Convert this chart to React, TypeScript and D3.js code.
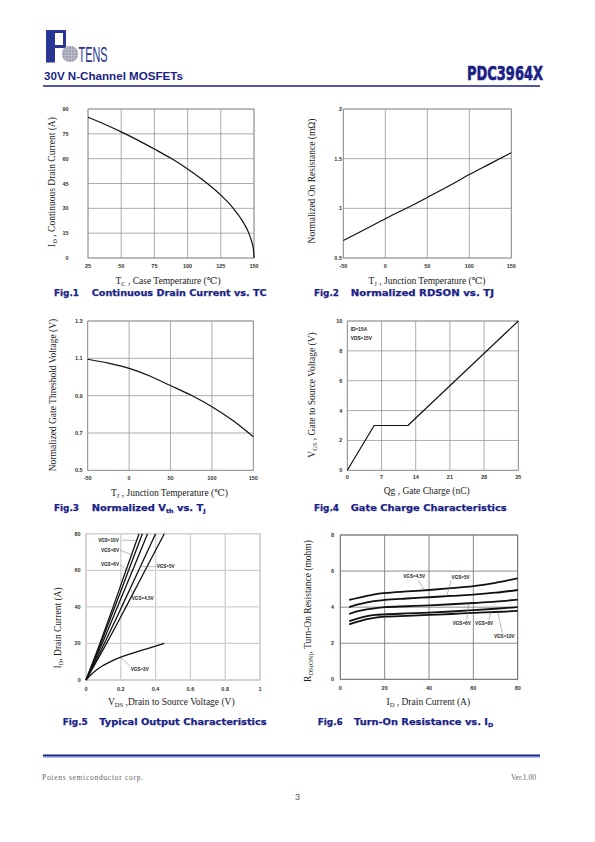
import React from 'react';
import * as d3 from 'd3';

// ---------- Fig.1 Continuous Drain Current vs. TC ----------
const fig1Temp = [25, 37.5, 50, 62.5, 75, 87.5, 100, 112.5, 125, 130, 135, 140, 143, 146, 148, 149, 149.7, 150];
const fig1Current = [85, 80.8, 76.2, 71.2, 65.8, 60.2, 53.8, 46.5, 38, 34, 29.4, 24, 20.1, 15.2, 10.7, 7.6, 4.2, 0];
const fig1XTicks = [25, 50, 75, 100, 125, 150];
const fig1YTicks = [0, 15, 30, 45, 60, 75, 90];

// ---------- Fig.2 Normalized RDSON vs. TJ ----------
const fig2Temp = [-50, -25, 0, 25, 50, 75, 100, 125, 150];
const fig2Rdson = [0.677, 0.785, 0.895, 1.0, 1.11, 1.222, 1.34, 1.45, 1.56];
const fig2XTicks = [-50, 0, 50, 100, 150];
const fig2YTicks = [0.5, 1, 1.5, 2];

// ---------- Fig.3 Normalized Vth vs. TJ ----------
const fig3Temp = [-50, -25, 0, 25, 50, 75, 100, 125, 150];
const fig3Vth = [1.095, 1.074, 1.046, 1.005, 0.954, 0.902, 0.841, 0.768, 0.68];
const fig3XTicks = [-50, 0, 50, 100, 150];
const fig3YTicks = [0.5, 0.7, 0.9, 1.1, 1.3];

// ---------- Fig.4 Gate Charge ----------
const fig4Qg = [0, 5.5, 12.4, 35];
const fig4Vgs = [0, 3, 3, 10];
const fig4XTicks = [0, 7, 14, 21, 28, 35];
const fig4YTicks = [0, 2, 4, 6, 8, 10];
const fig4Notes = ['ID=15A', 'VDS=15V'];

// ---------- Fig.5 Typical Output Characteristics ----------
const fig5Labels = ['VGS=10V', 'VGS=8V', 'VGS=6V', 'VGS=5V', 'VGS=4.5V', 'VGS=3V'];
const fig5Vds = [
  [0, 0.08, 0.156, 0.23, 0.305],
  [0, 0.085, 0.166, 0.245, 0.324],
  [0, 0.093, 0.181, 0.268, 0.354],
  [0, 0.105, 0.205, 0.303, 0.4],
  [0, 0.118, 0.23, 0.34, 0.45],
  [0, 0.03, 0.06, 0.1, 0.15, 0.2, 0.3, 0.4, 0.45],
];
const fig5Id = [
  [0, 20, 40, 60, 80],
  [0, 20, 40, 60, 80],
  [0, 20, 40, 60, 80],
  [0, 20, 40, 60, 80],
  [0, 20, 40, 60, 80],
  [0, 3, 5.5, 8, 10.5, 12.5, 15.7, 18.5, 20],
];
const fig5XTicks = [0, 0.2, 0.4, 0.6, 0.8, 1];
const fig5YTicks = [0, 20, 40, 60, 80];

// ---------- Fig.6 Turn-On Resistance vs. ID ----------
const fig6Labels = ['VGS=4.5V', 'VGS=5V', 'VGS=6V', 'VGS=8V', 'VGS=10V'];
const fig6Id = [4, 8, 12, 16, 20, 30, 40, 50, 60, 70, 80];
const fig6Rds = [
  [4.4, 4.52, 4.62, 4.72, 4.78, 4.87, 4.95, 5.05, 5.17, 5.35, 5.6],
  [4.0, 4.15, 4.27, 4.35, 4.4, 4.48, 4.55, 4.62, 4.7, 4.8, 4.95],
  [3.62, 3.78, 3.88, 3.95, 4.0, 4.05, 4.1, 4.16, 4.23, 4.31, 4.42],
  [3.22, 3.38, 3.5, 3.57, 3.6, 3.65, 3.7, 3.76, 3.83, 3.91, 4.0],
  [3.05, 3.2, 3.33, 3.42, 3.47, 3.52, 3.57, 3.62, 3.68, 3.73, 3.79],
];
const fig6XTicks = [0, 20, 40, 60, 80];
const fig6YTicks = [0, 2, 4, 6, 8];

// ---------- annotation placements (data coords) ----------
const fig5Anno = [
  { t: 0, at: [0.07, 76.5], from: [0.205, 76.5], to: [0.29, 76.3] },
  { t: 1, at: [0.086, 71], from: [0.195, 71], to: [0.275, 68] },
  { t: 2, at: [0.086, 63], from: [0.195, 63], to: [0.26, 59] },
  { t: 3, at: [0.406, 62], from: [0.4, 62], to: [0.31, 62] },
  { t: 4, at: [0.263, 44.3], from: [0.27, 47], to: [0.25, 51] },
  { t: 5, at: [0.257, 5.85], from: [0.255, 7.2], to: [0.2, 12.3] },
];
const fig6Anno = [
  { t: 0, at: [28.4, 5.69], from: [35, 5.5], to: [38, 4.95] },
  { t: 1, at: [50.2, 5.67], from: [50, 5.5], to: [48, 4.62] },
  { t: 2, at: [50.7, 3.1], from: [57, 3.3], to: [58, 4.22] },
  { t: 3, at: [60.8, 3.12], from: [67, 3.3], to: [68, 3.89] },
  { t: 4, at: [69.3, 2.36], from: [73, 2.6], to: [71, 3.74] },
];

const NAVY = '#1b1f86';
const SERIF = '"Liberation Serif", "DejaVu Serif", serif';
const SANS = '"Liberation Sans", Arial, sans-serif';
const HEAVY = '"DejaVu Sans", "Liberation Sans", sans-serif';

type Ser = { xs: number[]; ys: number[]; w: number; straight?: boolean };

function Chart(p: {
  box: [number, number, number, number];
  xDomain: [number, number];
  yDomain: [number, number];
  xTicks: number[];
  yTicks: number[];
  yLabelRight: number;
  xLabelY: number;
  grid: string;
  gridW: number;
  series: Ser[];
  extra?: (x: any, y: any) => React.ReactNode;
}) {
  const [l, t, r, b] = p.box;
  const x = d3.scaleLinear().domain(p.xDomain).range([l, r]);
  const y = d3.scaleLinear().domain(p.yDomain).range([b, t]);
  const mk = (straight?: boolean) =>
    d3
      .line<[number, number]>()
      .x((d) => x(d[0]))
      .y((d) => y(d[1]))
      .curve(straight ? d3.curveLinear : d3.curveMonotoneX);
  return (
    <g>
      {p.xTicks.map((v, i) => (
        <line key={'gx' + i} x1={x(v)} x2={x(v)} y1={t} y2={b} stroke={p.grid} strokeWidth={p.gridW} />
      ))}
      {p.yTicks.map((v, i) => (
        <line key={'gy' + i} x1={l} x2={r} y1={y(v)} y2={y(v)} stroke={p.grid} strokeWidth={p.gridW} />
      ))}
      <rect x={l} y={t} width={r - l} height={b - t} fill="none" stroke={p.grid} strokeWidth={p.gridW} />
      {p.xTicks.map((v, i) => (
        <text key={'tx' + i} x={x(v)} y={p.xLabelY} textAnchor="middle" dominantBaseline="central"
          fontFamily={SANS} fontWeight="bold" fontSize={5.5} fill="#333">{String(v)}</text>
      ))}
      {p.yTicks.map((v, i) => (
        <text key={'ty' + i} x={p.yLabelRight} y={y(v)} textAnchor="end" dominantBaseline="central"
          fontFamily={SANS} fontWeight="bold" fontSize={5.5} fill="#333">{String(v)}</text>
      ))}
      {p.series.map((s, i) => (
        <path key={'s' + i} d={mk(s.straight)(s.xs.map((v, j) => [v, s.ys[j]] as [number, number])) || ''}
          fill="none" stroke="#111" strokeWidth={s.w} strokeLinejoin="round" />
      ))}
      {p.extra ? p.extra(x, y) : null}
    </g>
  );
}

function XTitle(p: { x: number; y: number; parts: [string, string?][] }) {
  return (
    <text x={p.x} y={p.y} textAnchor="middle" dominantBaseline="central" fontFamily={SERIF} fontSize={9.5} fill="#222">
      {p.parts.map((pt, i) =>
        pt[1] === 's' ? (
          <tspan key={i} fontSize={6.5} dy={1.8}>{pt[0]}</tspan>
        ) : (
          <tspan key={i} dy={i > 0 && p.parts[i - 1][1] === 's' ? -1.8 : 0}>{pt[0]}</tspan>
        )
      )}
    </text>
  );
}

function YTitle(p: { x: number; y: number; parts: [string, string?][] }) {
  return (
    <g transform={`translate(${p.x},${p.y}) rotate(-90)`}>
      <XTitle x={0} y={0} parts={p.parts} />
    </g>
  );
}

function FigCaption(p: { n: number; x1: number; x2: number; x3: number; y: number; parts: [string, string?][] }) {
  return (
    <g fontFamily={HEAVY} fontWeight="bold" fill={NAVY} stroke={NAVY} strokeWidth={0.25}>
      <text x={p.x1} y={p.y} fontSize={8.5} textLength={25} lengthAdjust="spacingAndGlyphs">{'Fig.' + p.n}</text>
      <text x={p.x2} y={p.y} fontSize={8.5} textLength={p.x3 - p.x2} lengthAdjust="spacingAndGlyphs">
        {p.parts.map((pt, i) =>
          pt[1] === 's' ? (
            <tspan key={i} fontSize={5.5} dy={1.5}>{pt[0]}</tspan>
          ) : (
            <tspan key={i} dy={i > 0 && p.parts[i - 1][1] === 's' ? -1.5 : 0}>{pt[0]}</tspan>
          )
        )}
      </text>
    </g>
  );
}

function annoRender(anno: any[], labels: string[]) {
  return (x: any, y: any) => (
    <g>
      {anno.map((a, i) => (
        <g key={i}>
          <line x1={x(a.from[0])} y1={y(a.from[1])} x2={x(a.to[0])} y2={y(a.to[1])} stroke="#777" strokeWidth={0.5} />
          <text x={x(a.at[0])} y={y(a.at[1])} dominantBaseline="central" fontFamily={SANS} fontWeight="bold"
            fontSize={4.6} fill="#222">{labels[a.t]}</text>
        </g>
      ))}
    </g>
  );
}

function Logo() {
  const cx = 70, cy = 54, r = 8.3;
  const offs = [-6, -3, 0, 3, 6];
  return (
    <g>
      <path d="M46,30 H66 V48 H55 V62.5 H46 Z M55,33 V45 H63 V33 Z" fill="#283593" fillRule="evenodd" />
      <defs>
        <clipPath id="globe"><circle cx={cx} cy={cy} r={r} /></clipPath>
      </defs>
      <circle cx={cx} cy={cy} r={r} fill="#c9cbd3" />
      <g clipPath="url(#globe)" stroke="#7d8090" strokeWidth={0.6}>
        {offs.map((o, i) => (
          <line key={'a' + i} x1={cx + o} x2={cx + o} y1={cy - r} y2={cy + r} />
        ))}
        {offs.map((o, i) => (
          <line key={'b' + i} y1={cy + o} y2={cy + o} x1={cx - r} x2={cx + r} />
        ))}
      </g>
      <text x={78.5} y={62} fontFamily={SANS} fontSize={22} fill="#283593" textLength={29}
        lengthAdjust="spacingAndGlyphs">TENS</text>
    </g>
  );
}

export default function App() {
  const s1: Ser[] = [{ xs: fig1Temp, ys: fig1Current, w: 1.2 }];
  const s2: Ser[] = [{ xs: fig2Temp, ys: fig2Rdson, w: 1.2 }];
  const s3: Ser[] = [{ xs: fig3Temp, ys: fig3Vth, w: 1.2 }];
  const s5: Ser[] = fig5Vds.map((xs, i) => ({ xs, ys: fig5Id[i], w: 1.3 }));
  const s6: Ser[] = fig6Rds.map((ys) => ({ xs: fig6Id, ys, w: 1.8 }));
  return (
    <svg width={595} height={842} style={{ position: 'absolute', left: 0, top: 0, background: '#fff' }}>
      {/* Header */}
      <Logo />
      <text x={44} y={80} fontFamily={SANS} fontWeight="bold" fontSize={11} fill={NAVY} textLength={139}
        lengthAdjust="spacingAndGlyphs">30V N-Channel MOSFETs</text>
      <text x={467} y={79.5} fontFamily={HEAVY} fontWeight="bold" fontSize={20} fill={NAVY} stroke={NAVY}
        strokeWidth={0.7} textLength={76} lengthAdjust="spacingAndGlyphs">PDC3964X</text>
      <line x1={43} x2={540} y1={86} y2={86} stroke={NAVY} strokeWidth={1.3} />

      {/* Fig 1 */}
      <Chart box={[88, 109, 254, 258]} xDomain={[25, 150]} yDomain={[0, 90]} xTicks={fig1XTicks} yTicks={fig1YTicks}
        yLabelRight={68.5} xLabelY={265.7} grid="#8a8a8a" gridW={0.7} series={s1} />
      <YTitle x={52} y={182} parts={[['I'], ['D', 's'], [' , Continuous Drain Current (A)']]} />
      <XTitle x={168} y={281} parts={[['T'], ['C', 's'], [' , Case Temperature (℃)']]} />
      <FigCaption n={1} x1={54} x2={91.7} x3={266.7} y={296} parts={[['Continuous Drain Current vs. TC']]} />

      {/* Fig 2 */}
      <Chart box={[343.3, 109, 511.3, 258]} xDomain={[-50, 150]} yDomain={[0.5, 2]} xTicks={fig2XTicks}
        yTicks={fig2YTicks} yLabelRight={342} xLabelY={265.7} grid="#8a8a8a" gridW={0.7} series={s2} />
      <YTitle x={311.7} y={181} parts={[['Normalized On Resistance (mΩ)']]} />
      <XTitle x={427} y={281} parts={[['T'], ['J', 's'], [' , Junction Temperature (℃)']]} />
      <FigCaption n={2} x1={314} x2={350.7} x3={494} y={296} parts={[['Normalized RDSON vs. TJ']]} />

      {/* Fig 3 */}
      <Chart box={[87.7, 321, 253.3, 470.3]} xDomain={[-50, 150]} yDomain={[0.5, 1.3]} xTicks={fig3XTicks}
        yTicks={fig3YTicks} yLabelRight={82.7} xLabelY={477.7} grid="#8a8a8a" gridW={0.7} series={s3} />
      <YTitle x={52.7} y={395} parts={[['Normalized Gate Threshold Voltage (V)']]} />
      <XTitle x={169.5} y={492.7} parts={[['T'], ['J', 's'], [' , Junction Temperature (℃)']]} />
      <FigCaption n={3} x1={54} x2={91.7} x3={205.7} y={511} parts={[['Normalized V'], ['th', 's'], [' vs. T'], ['J', 's']]} />

      {/* Fig 4 */}
      <Chart box={[347.3, 321, 518.3, 470.3]} xDomain={[0, 35]} yDomain={[0, 10]} xTicks={fig4XTicks}
        yTicks={fig4YTicks} yLabelRight={342.3} xLabelY={477} grid="#8a8a8a" gridW={0.7}
        series={[{ xs: fig4Qg, ys: fig4Vgs, w: 1.2, straight: true }]}
        extra={(x, y) => (
          <g fontFamily={SANS} fontWeight="bold" fontSize={4.8} fill="#222">
            <text x={x(0.7)} y={y(9.4)} dominantBaseline="central">{fig4Notes[0]}</text>
            <text x={x(0.7)} y={y(8.85)} dominantBaseline="central">{fig4Notes[1]}</text>
          </g>
        )} />
      <YTitle x={312} y={395} parts={[['V'], ['GS', 's'], [' , Gate to Source Voltage (V)']]} />
      <XTitle x={426.7} y={491} parts={[['Qg , Gate Charge (nC)']]} />
      <FigCaption n={4} x1={314} x2={350.7} x3={506.7} y={511} parts={[['Gate Charge Characteristics']]} />

      {/* Fig 5 */}
      <Chart box={[86, 533.7, 260, 680]} xDomain={[0, 1]} yDomain={[0, 80]} xTicks={fig5XTicks}
        yTicks={fig5YTicks} yLabelRight={80.7} xLabelY={689.3} grid="#cfcfcf" gridW={1.3} series={s5}
        extra={annoRender(fig5Anno, fig5Labels)} />
      <YTitle x={58} y={628} parts={[['I'], ['D', 's'], [', Drain Current (A)']]} />
      <XTitle x={171.3} y={701.7} parts={[['V'], ['DS', 's'], [' ,Drain to Source Voltage (V)']]} />
      <FigCaption n={5} x1={62.7} x2={99.3} x3={266.7} y={725} parts={[['Typical Output Characteristics']]} />

      {/* Fig 6 */}
      <Chart box={[340.3, 535, 517.7, 679.3]} xDomain={[0, 80]} yDomain={[0, 8]} xTicks={fig6XTicks}
        yTicks={fig6YTicks} yLabelRight={334} xLabelY={688.3} grid="#6e6e6e" gridW={0.8} series={s6}
        extra={annoRender(fig6Anno, fig6Labels)} />
      <YTitle x={308} y={611} parts={[['R'], ['DS(ON)', 's'], [', Turn-On Resistance (mohm)']]} />
      <XTitle x={428.3} y={701.7} parts={[['I'], ['D', 's'], [' , Drain Current (A)']]} />
      <FigCaption n={6} x1={317.7} x2={354} x3={493.3} y={725} parts={[['Turn-On Resistance vs. I'], ['D', 's']]} />

      {/* Footer */}
      <rect x={43} y={754.5} width={497} height={1.6} fill={NAVY} />
      <rect x={43} y={756.1} width={497} height={1.4} fill="#6f7fcf" />
      <text x={42} y={780} fontFamily={SERIF} fontSize={7.5} fill="#666" textLength={101}
        lengthAdjust="spacing">Potens semiconductor corp.</text>
      <text x={536} y={780} textAnchor="end" fontFamily={SERIF} fontSize={7.5} fill="#666">Ver.1.00</text>
      <text x={297.5} y={800} textAnchor="middle" fontFamily={SANS} fontSize={9} fill="#555">3</text>
    </svg>
  );
}
